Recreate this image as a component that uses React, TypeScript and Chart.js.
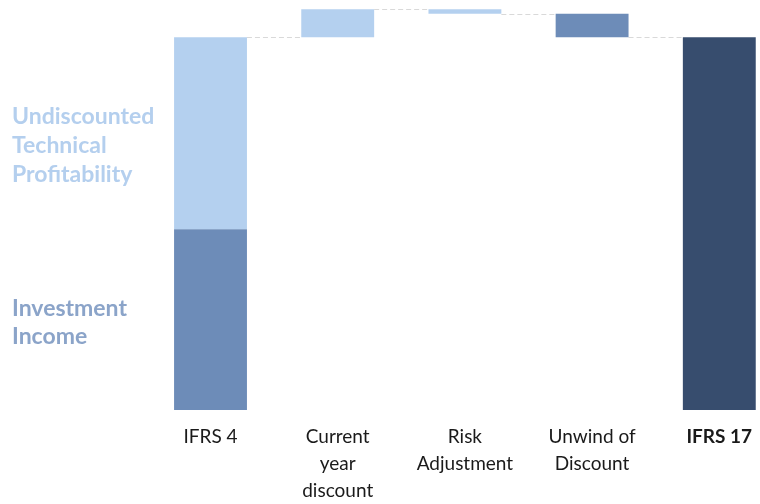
import React, { useEffect, useRef } from 'react';
import { Chart, registerables } from 'chart.js';

Chart.register(...registerables);

const LIGHT = '#b4d0ef';
const MEDIUM = '#6d8cb8';
const DARK = '#374d6e';

const categories: (string | string[])[] = [
  'IFRS 4',
  ['Current', 'year', 'discount'],
  ['Risk', 'Adjustment'],
  ['Unwind of', 'Discount'],
  'IFRS 17',
];
const investmentIncome = 48.5;
const undiscountedProfit = 51.5;
const movements = [7.5, -1.2, -6.3];
const movementColors = [LIGHT, LIGHT, MEDIUM];
const ifrs17Total = 100;
const sideLabels = [
  { lines: ['Undiscounted', 'Technical', 'Profitability'], color: '#b4cfee', ys: [117, 146, 175] },
  { lines: ['Investment', 'Income'], color: '#8ba4c9', ys: [309, 337] },
];

const FONT = 'Lato, "Open Sans", sans-serif';

export default function App() {
  const ref = useRef<HTMLCanvasElement>(null);

  useEffect(() => {
    if (!ref.current) return;
    const start = investmentIncome + undiscountedProfit;
    let cum = start;
    const moveData: any[] = [];
    const levels: number[] = [start];
    movements.forEach((m, i) => {
      const lo = cum;
      const hi = cum + m;
      moveData.push({ x: i + 1, y: [Math.min(lo, hi), Math.max(lo, hi)] });
      cum = hi;
      levels.push(cum);
    });

    const connectorPlugin = {
      id: 'connectors',
      beforeDatasetsDraw(chart: any) {
        const xs = chart.scales.x;
        const ys = chart.scales.y;
        const w = chart.getDatasetMeta(3).data[0].width;
        const ctx = chart.ctx;
        ctx.save();
        ctx.strokeStyle = '#d9d9d9';
        ctx.lineWidth = 1;
        ctx.setLineDash([5, 3]);
        levels.forEach((lv, i) => {
          const y = Math.round(ys.getPixelForValue(lv)) + 0.5;
          const x1 = xs.getPixelForValue(i) + w / 2;
          const x2 = xs.getPixelForValue(i + 1) - w / 2;
          ctx.beginPath();
          ctx.moveTo(x1, y);
          ctx.lineTo(x2, y);
          ctx.stroke();
        });
        ctx.restore();
      },
    };

    const sideLabelPlugin = {
      id: 'sideLabels',
      afterDraw(chart: any) {
        const ctx = chart.ctx;
        ctx.save();
        ctx.font = `bold 23px ${FONT}`;
        ctx.textBaseline = 'middle';
        ctx.textAlign = 'left';
        sideLabels.forEach((lab) => {
          ctx.fillStyle = lab.color;
          lab.lines.forEach((t, i) => ctx.fillText(t, 12, lab.ys[i]));
        });
        ctx.restore();
      },
    };

    const chart = new Chart(ref.current, {
      type: 'bar',
      data: {
        datasets: [
          {
            label: 'Investment Income',
            data: [{ x: 0, y: [0, investmentIncome] }] as any,
            backgroundColor: MEDIUM,
          },
          {
            label: 'Undiscounted Technical Profitability',
            data: [{ x: 0, y: [investmentIncome, start] }] as any,
            backgroundColor: LIGHT,
          },
          {
            label: 'Movements',
            data: moveData,
            backgroundColor: movementColors,
          },
          {
            label: 'IFRS 17',
            data: [{ x: 4, y: [0, ifrs17Total] }] as any,
            backgroundColor: DARK,
          },
        ],
      },
      options: {
        responsive: false,
        animation: false,
        layout: { padding: 0 },
        datasets: {
          bar: { grouped: false, categoryPercentage: 1, barPercentage: 0.573 } as any,
        },
        plugins: {
          legend: { display: false },
          tooltip: { enabled: false },
        },
        scales: {
          x: {
            type: 'linear',
            min: -1.655,
            max: 4.32,
            offset: false,
            grid: { display: false, drawTicks: true, tickLength: 14, offset: false },
            border: { display: false },
            afterBuildTicks: (scale: any) => {
              scale.ticks = categories.map((_, i) => ({ value: i }));
            },
            afterFit: (scale: any) => {
              scale.height = 94;
              scale.paddingLeft = 0;
              scale.paddingRight = 0;
            },
            ticks: {
              autoSkip: false,
              maxRotation: 0,
              minRotation: 0,
              padding: 0,
              color: '#1a1a1a',
              font: (ctx: any) => ({
                family: FONT,
                size: 19,
                lineHeight: 1.4,
                weight: ctx.index === categories.length - 1 ? 'bold' : 'normal',
              }),
              callback: (v: any) => categories[v as number] as any,
            },
          },
          y: {
            display: false,
            min: 0,
            max: 110,
          },
        },
      },
      plugins: [connectorPlugin, sideLabelPlugin],
    });
    return () => chart.destroy();
  }, []);

  return (
    <div style={{ position: 'fixed', left: 0, top: 0, width: 760, height: 504, background: '#fff' }}>
      <canvas ref={ref} width={760} height={504} style={{ display: 'block' }} />
    </div>
  );
}
